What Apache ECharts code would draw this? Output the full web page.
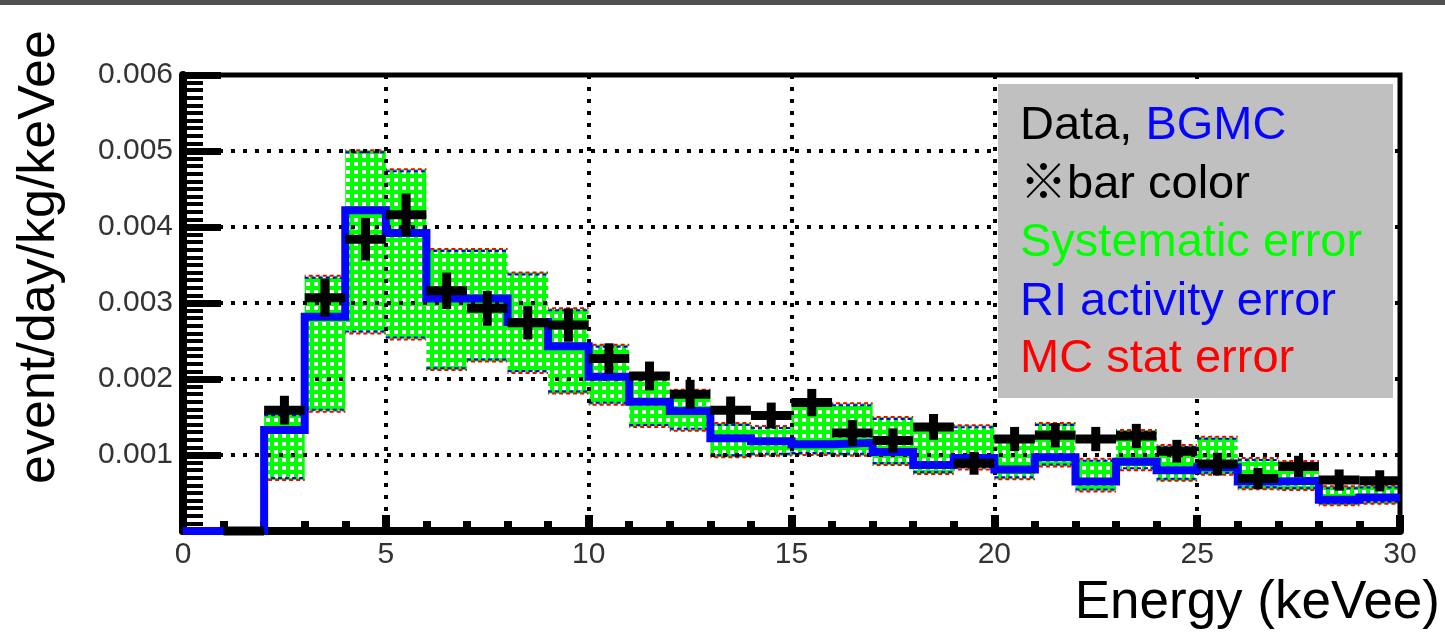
<!DOCTYPE html>
<html><head><meta charset="utf-8">
<script src="https://cdn.jsdelivr.net/npm/echarts@6/dist/echarts.min.js"></script>
<style>html,body{margin:0;padding:0;background:#fff}#c{width:1445px;height:632px}</style>
</head><body><div id="c"></div>
<script>
// ---- data ----
const binEdges = [0,1,2,3,4,5,6,7,8,9,10,11,12,13,14,15,16,17,18,19,20,21,22,23,24,25,26,27,28,29,30];
const bgmc = [0, 0, 0.00133, 0.00282, 0.00422, 0.00392, 0.00306, 0.00306, 0.00275, 0.00243,
  0.00203, 0.00170, 0.00158, 0.00122, 0.00118, 0.00114, 0.00116, 0.00104, 0.00087, 0.00096,
  0.00081, 0.00097, 0.00065, 0.00091, 0.00080, 0.00084, 0.00065, 0.00066, 0.00041, 0.00044];
const dataVal = [null, 0, 0.00159, 0.00307, 0.00384, 0.00416, 0.00316, 0.00293, 0.00274, 0.00271,
  0.00227, 0.00204, 0.00180, 0.00159, 0.00152, 0.00169, 0.00129, 0.00119, 0.00137, 0.00089,
  0.00121, 0.00126, 0.00121, 0.00125, 0.00105, 0.00088, 0.00069, 0.00085, 0.00067, 0.00066];
const dataErr = [null, 0, 0.00015, 0.00021, 0.00024, 0.00024, 0.00020, 0.00019, 0.00018, 0.00018,
  0.00016, 0.00015, 0.00015, 0.00014, 0.00013, 0.00014, 0.00013, 0.00012, 0.00013, 0.00011,
  0.00012, 0.00012, 0.00012, 0.00012, 0.00011, 0.00011, 0.00010, 0.00010, 0.00010, 0.00010];
const sysHigh = [null, null, 0.00155, 0.00336, 0.00501, 0.00476, 0.00371, 0.00371, 0.00340, 0.00293,
  0.00245, 0.00208, 0.00186, 0.00142, 0.00138, 0.00169, 0.00168, 0.00150, 0.00140, 0.00139,
  0.00124, 0.00142, 0.00095, 0.00133, 0.00113, 0.00124, 0.00096, 0.00092, 0.00059, 0.00060];
const sysLow = [null, null, 0.00067, 0.00157, 0.00260, 0.00252, 0.00212, 0.00223, 0.00208, 0.00181,
  0.00166, 0.00137, 0.00132, 0.00097, 0.00099, 0.00100, 0.00099, 0.00087, 0.00075, 0.00081,
  0.00068, 0.00085, 0.00052, 0.00080, 0.00066, 0.00074, 0.00055, 0.00054, 0.00034, 0.00036];
const xTickLabels = ['0','5','10','15','20','25','30'];
const yTickLabels = ['', '0.001', '0.002', '0.003', '0.004', '0.005', '0.006'];

// ---- derived tables for the library ----
const bandData = [], crossData = [], lineData = [];
for (let i = 0; i < bgmc.length; i++) {
  lineData.push([binEdges[i], bgmc[i]], [binEdges[i + 1], bgmc[i]]);
  if (sysHigh[i] != null) bandData.push([binEdges[i], binEdges[i + 1], sysLow[i], sysHigh[i]]);
  if (dataVal[i] != null) crossData.push([binEdges[i], binEdges[i + 1], dataVal[i], dataErr[i]]);
}

function makePattern() {
  const c = document.createElement('canvas');
  c.width = 8; c.height = 8;
  const g = c.getContext('2d');
  g.fillStyle = '#00ff00'; g.fillRect(0, 0, 8, 8);
  g.fillStyle = '#ffffff'; g.fillRect(2, 2, 4, 4);
  return c;
}
const pattern = { image: makePattern(), repeat: 'repeat' };

const FONT = '"Liberation Sans", Arial, "Noto Sans CJK JP", sans-serif';
const chart = echarts.init(document.getElementById('c'), null, { renderer: 'canvas' });

chart.setOption({
  backgroundColor: '#ffffff',
  animation: false,
  grid: { left: 183, right: 45, top: 75, bottom: 101, show: true, borderColor: '#000', borderWidth: 5, backgroundColor: 'transparent' },
  xAxis: {
    type: 'value', min: 0, max: 30, interval: 5,
    axisLine: { onZero: false, lineStyle: { color: '#000', width: 8 } },
    axisTick: { inside: true, length: 16, lineStyle: { color: '#000', width: 8 } },
    minorTick: { show: true, splitNumber: 5, length: 10, lineStyle: { color: '#000', width: 8 } },
    splitLine: { show: true, lineStyle: { color: '#000', width: 4, type: [4, 8] } },
    axisLabel: { fontSize: 30, color: '#333', margin: 9, fontFamily: FONT,
      formatter: (v, i) => xTickLabels[i] }
  },
  yAxis: {
    type: 'value', min: 0, max: 0.006, interval: 0.001,
    axisLine: { lineStyle: { color: '#000', width: 8 } },
    axisTick: { inside: true, length: 38, lineStyle: { color: '#000', width: 7 } },
    minorTick: { show: true, splitNumber: 10, length: 20, lineStyle: { color: '#000', width: 4 } },
    splitLine: { show: true, lineStyle: { color: '#000', width: 4, type: [4, 8] } },
    axisLabel: { fontSize: 30, color: '#333', margin: 10, fontFamily: FONT,
      formatter: (v, i) => yTickLabels[i] }
  },
  series: [
    {
      type: 'custom', name: 'Systematic error', z: -1, data: bandData,
      encode: { x: [0, 1], y: [2, 3] },
      renderItem: (params, api) => {
        const p1 = api.coord([api.value(0), api.value(3)]);
        const p2 = api.coord([api.value(1), api.value(2)]);
        const x = p1[0], y = p1[1], w = p2[0] - p1[0], h = p2[1] - p1[1];
        return { type: 'group', children: [
          { type: 'rect', shape: { x: x, y: y, width: w, height: h }, style: { fill: pattern } },
          { type: 'line', shape: { x1: x, y1: y + 2, x2: x + w, y2: y + 2 }, style: { stroke: '#0000ff', lineWidth: 2, lineDash: [4, 3] } },
          { type: 'line', shape: { x1: x, y1: y, x2: x + w, y2: y }, style: { stroke: '#ff0000', lineWidth: 2, lineDash: [4, 3], lineDashOffset: 3 } },
          { type: 'line', shape: { x1: x, y1: y + h - 2, x2: x + w, y2: y + h - 2 }, style: { stroke: '#0000ff', lineWidth: 2, lineDash: [4, 3] } },
          { type: 'line', shape: { x1: x, y1: y + h, x2: x + w, y2: y + h }, style: { stroke: '#ff0000', lineWidth: 2, lineDash: [4, 3], lineDashOffset: 3 } }
        ] };
      }
    },
    {
      type: 'line', name: 'BGMC', data: lineData, symbol: 'none', z: 3,
      lineStyle: { color: '#0505ff', width: 8, join: 'miter' }
    },
    {
      type: 'custom', name: 'Data', z: 4, data: crossData,
      encode: { x: [0, 1], y: 2 },
      renderItem: (params, api) => {
        const lo = api.value(0), hi = api.value(1), v = api.value(2), e = api.value(3);
        const a = api.coord([lo, v]), b = api.coord([hi, v]);
        const mid = (lo + hi) / 2;
        const t = api.coord([mid, v + e]), d = api.coord([mid, v - e]);
        const st = { stroke: '#000', lineWidth: 9 };
        return { type: 'group', children: [
          { type: 'line', shape: { x1: a[0], y1: a[1], x2: b[0], y2: b[1] }, style: st },
          { type: 'line', shape: { x1: t[0], y1: t[1] - 3, x2: d[0], y2: d[1] + 3 }, style: st }
        ] };
      }
    }
  ],
  graphic: [
    { type: 'rect', z: 10, shape: { x: 0, y: 0, width: 1445, height: 5 }, style: { fill: '#505050' } },
    { type: 'rect', z: 10, shape: { x: 998, y: 84, width: 395, height: 314 }, style: { fill: '#c0c0c0' } },
    { type: 'text', z: 11, x: 1020, y: 126, style: {
        text: '{a|Data, }{b|BGMC}', fontSize: 47, fontFamily: FONT, verticalAlign: 'middle',
        rich: { a: { fill: '#000', fontSize: 47, fontFamily: FONT }, b: { fill: '#0505ff', fontSize: 47, fontFamily: FONT } } } },
    { type: 'text', z: 11, x: 1020, y: 185, style: { text: '※bar color', fill: '#000', fontSize: 47, fontFamily: FONT, verticalAlign: 'middle' } },
    { type: 'text', z: 11, x: 1020, y: 243, style: { text: 'Systematic error', fill: '#00ff00', fontSize: 47, fontFamily: FONT, verticalAlign: 'middle' } },
    { type: 'text', z: 11, x: 1020, y: 302, style: { text: 'RI activity error', fill: '#0505ff', fontSize: 47, fontFamily: FONT, verticalAlign: 'middle' } },
    { type: 'text', z: 11, x: 1020, y: 359, style: { text: 'MC stat error', fill: '#ff0000', fontSize: 47, fontFamily: FONT, verticalAlign: 'middle' } },
    { type: 'text', z: 11, x: 40, y: 257, rotation: Math.PI / 2, style: { text: 'event/day/kg/keVee', fill: '#000', fontSize: 52, fontFamily: FONT, align: 'center', verticalAlign: 'middle' } },
    { type: 'text', z: 11, x: 1440, y: 603, style: { text: 'Energy (keVee)', fill: '#000', fontSize: 53, fontFamily: FONT, align: 'right', verticalAlign: 'middle' } }
  ]
});
</script>
</body></html>
